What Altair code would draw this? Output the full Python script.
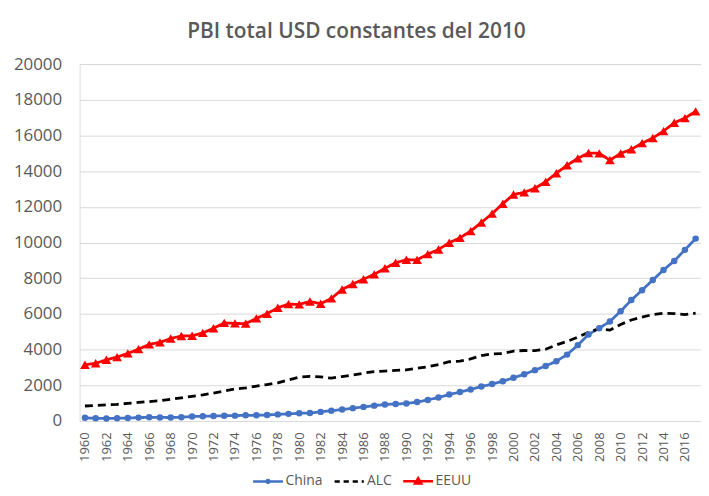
import altair as alt
import pandas as pd

years = list(range(1960, 2018))

china = [180, 150, 145, 155, 170, 190, 205, 200, 195, 215,
         250, 265, 275, 295, 300, 320, 320, 340, 370, 400,
         430, 450, 510, 580, 640, 720, 790, 860, 930, 950,
         980, 1060, 1180, 1320, 1480, 1620, 1766, 1930, 2070, 2230,
         2420, 2620, 2850, 3080, 3350, 3720, 4250, 4850, 5200, 5580,
         6150, 6780, 7330, 7900, 8460, 8970, 9590, 10220]

alc = [840, 870, 900, 930, 990, 1040, 1090, 1140, 1220, 1300,
       1380, 1460, 1560, 1680, 1790, 1850, 1950, 2040, 2140, 2300,
       2460, 2500, 2470, 2400, 2490, 2580, 2680, 2770, 2800, 2840,
       2860, 2950, 3040, 3160, 3320, 3360, 3480, 3660, 3760, 3780,
       3920, 3950, 3940, 4020, 4260, 4460, 4700, 4970, 5170, 5090,
       5410, 5660, 5820, 5970, 6030, 6020, 5960, 6040]

eeuu = [3150, 3234, 3431, 3581, 3788, 4026, 4291, 4407, 4621, 4764,
        4773, 4935, 5197, 5497, 5468, 5457, 5750, 6013, 6349, 6548,
        6532, 6699, 6572, 6870, 7369, 7676, 7945, 8217, 8557, 8870,
        9037, 9029, 9351, 9609, 9990, 10261, 10642, 11123, 11617, 12176,
        12688, 12810, 13040, 13404, 13884, 14331, 14717, 15018, 14997, 14617,
        14992, 15224, 15567, 15854, 16243, 16710, 16972, 17349]

series_names = ["China", "ALC", "EEUU"]
series_colors = ["#4472C4", "#000000", "#FF0000"]
y_ticks = list(range(0, 20001, 2000))
x_ticks = years[::2]

rows = []
for name, vals in zip(series_names, [china, alc, eeuu]):
    for yr, v in zip(years, vals):
        rows.append({"anio": yr, "serie": name, "valor": v})
df = pd.DataFrame(rows)

FONT = "Open Sans"
GRAY = "#595959"

x_enc = alt.X(
    "anio:O",
    scale=alt.Scale(type="point", padding=0.5),
    axis=alt.Axis(values=x_ticks, labelAngle=270, labelFontSize=13, labelFont=FONT,
                  labelColor=GRAY, ticks=False, labelPadding=11, domainColor="#d9d9d9",
                  grid=False),
    title=None,
)
y_enc = alt.Y(
    "valor:Q",
    scale=alt.Scale(domain=[0, 20000], nice=False),
    axis=alt.Axis(values=y_ticks, format="d", labelFontSize=17, labelFont=FONT,
                  labelColor=GRAY, ticks=False, domain=False, labelPadding=18,
                  gridColor="#d9d9d9", gridWidth=1),
    title=None,
)
color_scale = alt.Scale(domain=series_names, range=series_colors)

lines = alt.Chart(df).mark_line(strokeWidth=2.8).encode(
    x=x_enc, y=y_enc,
    color=alt.Color("serie:N", scale=color_scale, legend=None),
    strokeDash=alt.StrokeDash("serie:N",
                              scale=alt.Scale(domain=series_names, range=[[1, 0], [8, 5], [1, 0]]),
                              legend=None),
)

china_pts = alt.Chart(df).transform_filter("datum.serie == 'China'").mark_circle(
    size=42, opacity=1).encode(
    x=x_enc, y=y_enc, color=alt.Color("serie:N", scale=color_scale, legend=None))

eeuu_pts = alt.Chart(df).transform_filter("datum.serie == 'EEUU'").mark_point(
    shape="triangle-up", filled=True, size=95, opacity=1).encode(
    x=x_enc, y=y_enc, color=alt.Color("serie:N", scale=color_scale, legend=None))

# legend symbols: line (+ marker) drawn wider than the nominal symbol box
legend_paths = [
    "M-2.14,0L2.14,0M0.22,0A0.22,0.22,0,1,1,-0.22,0A0.22,0.22,0,1,1,0.22,0Z",
    "M-2.14,0L-1.4,0M-0.85,0L-0.1,0M0.45,0L1.2,0M1.75,0L2.05,0",
    "M-2.14,0L2.14,0M0,-0.45L0.45,0.32L-0.45,0.32Z",
]
leg = alt.Legend(orient="none", legendX=181, legendY=411, direction="horizontal",
                 title=None, symbolSize=196, symbolStrokeWidth=2.5, labelFontSize=14,
                 labelFont=FONT, labelColor=GRAY, columnPadding=6, labelOffset=9)

legend_layer = alt.Chart(df).transform_filter("false").mark_point(
    filled=False, opacity=1, strokeWidth=2.5).encode(
    x=x_enc, y=y_enc,
    color=alt.Color("serie:N", scale=alt.Scale(domain=series_names, range=series_colors), legend=leg),
    shape=alt.Shape("serie:N", scale=alt.Scale(domain=series_names, range=legend_paths), legend=leg),
)

chart = alt.layer(lines, china_pts, eeuu_pts, legend_layer).resolve_scale(
    color="independent", shape="independent", strokeDash="independent"
).resolve_legend(color="independent", shape="independent").properties(
    width=625, height=359,
    autosize=alt.AutoSizeParams(type="none"),
    padding={"left": 72, "top": 55, "right": 0, "bottom": 66},
    title=alt.TitleParams("PBI total USD constantes del 2010", font=FONT, fontSize=21,
                          fontWeight=600, color=GRAY, anchor="middle", dx=-34, offset=13),
).configure_view(stroke=None).configure(background="white")

chart.save("out.html", embed_options={"renderer": "svg", "actions": False})
